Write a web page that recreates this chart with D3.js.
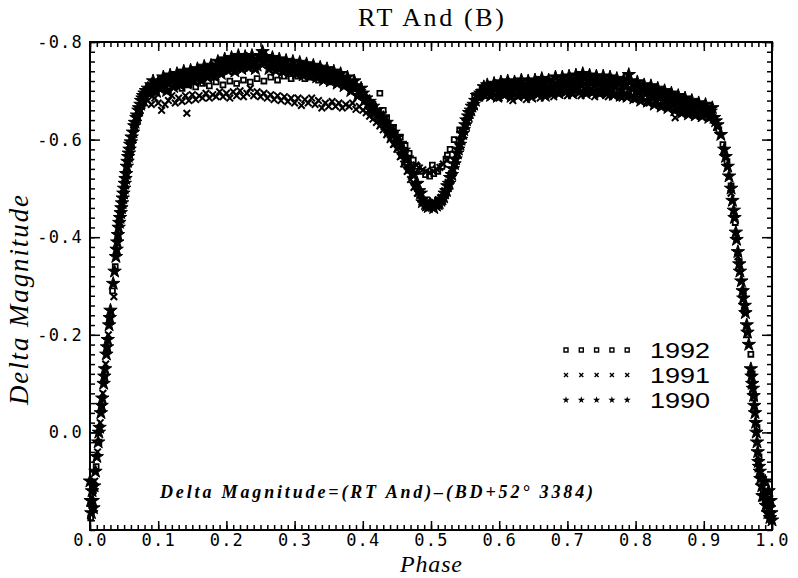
<html>
<head>
<title>RT And (B)</title>
<script src="https://cdn.jsdelivr.net/npm/d3@7"></script>
<style>
    body { margin: 0; background: #fff; }
    svg { display: block; }
</style>
</head>
<body>
<svg id="chart"></svg>
<script>
const WIDTH = 798
const HEIGHT = 578

// tick labels
const xTickLabels = ["0.0", "0.1", "0.2", "0.3", "0.4", "0.5", "0.6", "0.7", "0.8", "0.9", "1.0"]
const yTickLabels = ["-0.8", "-0.6", "-0.4", "-0.2", "0.0"]
const legendYears = ["1992", "1991", "1990"]

// [phase, delta magnitude]
const obs1990 = [
  [0.000,0.100],[0.001,0.140],[0.002,0.165],[0.003,0.120],[0.004,0.140],[0.005,0.155],[0.006,0.110],[0.008,0.080],
  [0.010,0.050],[0.012,0.020],[0.013,0.000],[0.014,-0.010],[0.016,-0.040],[0.017,-0.055],[0.018,-0.070],[0.020,-0.100],
  [0.021,-0.115],[0.022,-0.130],[0.024,-0.160],[0.025,-0.175],[0.026,-0.190],[0.028,-0.220],[0.029,-0.235],[0.030,-0.250],
  [0.034,-0.305],[0.036,-0.330],[0.038,-0.360],[0.039,-0.375],[0.040,-0.390],[0.041,-0.405],[0.042,-0.420],[0.043,-0.430],
  [0.044,-0.440],[0.045,-0.450],[0.046,-0.460],[0.047,-0.470],[0.048,-0.480],[0.049,-0.490],[0.050,-0.500],[0.051,-0.510],
  [0.052,-0.520],[0.053,-0.530],[0.054,-0.545],[0.055,-0.555],[0.056,-0.565],[0.057,-0.572],[0.058,-0.580],[0.059,-0.590],
  [0.060,-0.595],[0.061,-0.605],[0.063,-0.615],[0.065,-0.628],[0.066,-0.635],[0.068,-0.645],[0.069,-0.650],[0.071,-0.660],
  [0.072,-0.665],[0.074,-0.672],[0.075,-0.680],[0.077,-0.685],[0.078,-0.690],[0.080,-0.695],[0.082,-0.700],
  [0.085,-0.705],[0.0875,-0.695],[0.090,-0.712],[0.0925,-0.720],[0.095,-0.705],[0.0975,-0.698],[0.100,-0.718],[0.1025,-0.705],
  [0.105,-0.710],[0.1075,-0.728],[0.110,-0.722],[0.1125,-0.700],[0.115,-0.715],[0.1175,-0.732],[0.120,-0.725],[0.1225,-0.708],
  [0.125,-0.718],[0.1275,-0.735],[0.130,-0.728],[0.1325,-0.712],[0.135,-0.722],[0.1375,-0.740],[0.140,-0.730],[0.1425,-0.715],
  [0.145,-0.726],[0.1475,-0.742],[0.150,-0.735],[0.1525,-0.720],[0.155,-0.728],[0.1575,-0.745],[0.160,-0.738],[0.1625,-0.722],
  [0.165,-0.732],[0.1675,-0.750],[0.170,-0.740],[0.1725,-0.728],[0.175,-0.735],[0.1775,-0.752],[0.180,-0.745],[0.1825,-0.730],
  [0.185,-0.740],[0.1875,-0.760],[0.190,-0.752],[0.1925,-0.735],[0.195,-0.745],[0.1975,-0.765],[0.200,-0.755],[0.2025,-0.742],
  [0.205,-0.748],[0.2075,-0.768],[0.210,-0.760],[0.2125,-0.740],[0.215,-0.750],[0.2175,-0.772],[0.220,-0.762],[0.2225,-0.745],
  [0.225,-0.752],[0.2275,-0.770],[0.230,-0.765],[0.2325,-0.748],[0.235,-0.755],[0.2375,-0.772],[0.240,-0.760],[0.2425,-0.745],
  [0.245,-0.752],[0.2475,-0.765],[0.250,-0.770],[0.253,-0.780],[0.255,-0.758],[0.2575,-0.770],[0.260,-0.762],[0.2625,-0.745],
  [0.265,-0.750],[0.2675,-0.768],[0.270,-0.758],[0.2725,-0.742],[0.275,-0.748],[0.2775,-0.765],[0.280,-0.755],[0.2825,-0.740],
  [0.285,-0.745],[0.2875,-0.762],[0.290,-0.752],[0.2925,-0.738],[0.295,-0.745],[0.2975,-0.760],[0.300,-0.750],[0.3025,-0.735],
  [0.305,-0.742],[0.3075,-0.758],[0.310,-0.748],[0.3125,-0.732],[0.315,-0.740],[0.3175,-0.755],[0.320,-0.745],[0.3225,-0.730],
  [0.325,-0.738],[0.3275,-0.752],[0.330,-0.742],[0.3325,-0.728],[0.335,-0.735],[0.3375,-0.748],[0.340,-0.740],[0.3425,-0.722],
  [0.345,-0.732],[0.3475,-0.745],[0.350,-0.735],[0.3525,-0.720],[0.355,-0.728],[0.3575,-0.740],[0.360,-0.730],[0.3625,-0.715],
  [0.365,-0.722],[0.3675,-0.735],[0.370,-0.725],[0.3725,-0.710],[0.375,-0.715],[0.3775,-0.728],[0.380,-0.718],[0.3825,-0.700],
  [0.385,-0.708],[0.3875,-0.720],[0.390,-0.710],[0.3925,-0.690],[0.395,-0.698],[0.3975,-0.705],[0.400,-0.695],[0.4025,-0.680],
  [0.405,-0.685],[0.4075,-0.672],[0.410,-0.678],[0.4125,-0.660],[0.415,-0.668],[0.4175,-0.655],[0.420,-0.660],[0.4225,-0.648],
  [0.425,-0.652],[0.4275,-0.635],[0.430,-0.645],[0.4325,-0.632],[0.435,-0.635],[0.4375,-0.618],[0.440,-0.625],[0.4425,-0.610],
  [0.445,-0.615],[0.4475,-0.595],[0.450,-0.605],[0.4525,-0.588],[0.455,-0.592],[0.4575,-0.570],[0.460,-0.578],[0.4625,-0.560],
  [0.465,-0.562],[0.4675,-0.540],[0.470,-0.545],[0.4725,-0.530],[0.475,-0.528],[0.4775,-0.508],[0.480,-0.510],[0.4825,-0.495],
  [0.485,-0.490],[0.4875,-0.472],[0.488,-0.478],[0.492,-0.468],[0.4935,-0.465],[0.496,-0.462],[0.4985,-0.468],[0.500,-0.465],
  [0.5025,-0.464],[0.504,-0.460],[0.5065,-0.470],[0.508,-0.465],[0.5105,-0.468],[0.512,-0.470],[0.5145,-0.475],[0.516,-0.478],
  [0.5185,-0.482],[0.520,-0.490],[0.5225,-0.495],[0.524,-0.505],[0.5265,-0.510],[0.528,-0.522],[0.5305,-0.528],[0.532,-0.540],
  [0.5345,-0.550],[0.536,-0.560],[0.5385,-0.572],[0.540,-0.580],[0.5425,-0.590],[0.544,-0.600],[0.5465,-0.612],[0.548,-0.620],
  [0.5505,-0.630],[0.552,-0.640],[0.5545,-0.648],[0.556,-0.655],[0.5585,-0.660],[0.560,-0.668],[0.5625,-0.672],[0.565,-0.680],
  [0.5675,-0.690],[0.570,-0.690],[0.5725,-0.695],[0.575,-0.698],[0.5775,-0.708],[0.580,-0.702],
  [0.5825,-0.712],[0.585,-0.705],[0.5875,-0.690],[0.590,-0.698],[0.5925,-0.715],[0.595,-0.708],[0.5975,-0.688],[0.600,-0.700],
  [0.6025,-0.718],[0.605,-0.710],[0.6075,-0.692],[0.610,-0.702],[0.6125,-0.720],[0.615,-0.712],[0.6175,-0.688],[0.620,-0.698],
  [0.6225,-0.718],[0.625,-0.708],[0.6275,-0.690],[0.630,-0.700],[0.6325,-0.722],[0.635,-0.712],[0.6375,-0.692],[0.640,-0.703],
  [0.6425,-0.720],[0.645,-0.710],[0.6475,-0.688],[0.650,-0.700],[0.6525,-0.722],[0.655,-0.712],[0.6575,-0.695],[0.660,-0.705],
  [0.6625,-0.725],[0.665,-0.715],[0.6675,-0.690],[0.670,-0.702],[0.6725,-0.722],[0.675,-0.710],[0.6775,-0.695],[0.680,-0.705],
  [0.6825,-0.728],[0.685,-0.715],[0.6875,-0.695],[0.690,-0.708],[0.6925,-0.728],[0.695,-0.718],[0.6975,-0.698],[0.700,-0.710],
  [0.7025,-0.730],[0.705,-0.720],[0.7075,-0.695],[0.710,-0.708],[0.7125,-0.732],[0.715,-0.722],[0.7175,-0.698],[0.720,-0.712],
  [0.7225,-0.735],[0.725,-0.725],[0.7275,-0.695],[0.730,-0.710],[0.7325,-0.732],[0.735,-0.722],[0.7375,-0.698],[0.740,-0.712],
  [0.7425,-0.730],[0.745,-0.720],[0.7475,-0.695],[0.750,-0.708],[0.7525,-0.730],[0.755,-0.718],[0.7575,-0.695],[0.760,-0.705],
  [0.7625,-0.728],[0.765,-0.720],[0.7675,-0.692],[0.770,-0.710],[0.7725,-0.725],[0.775,-0.715],[0.7775,-0.690],[0.780,-0.702],
  [0.7825,-0.722],[0.785,-0.712],[0.7875,-0.688],[0.790,-0.733],[0.7925,-0.720],[0.795,-0.705],[0.7975,-0.685],[0.800,-0.710],
  [0.8025,-0.718],[0.805,-0.698],[0.8075,-0.680],[0.810,-0.705],[0.8125,-0.712],[0.815,-0.695],[0.8175,-0.678],[0.820,-0.702],
  [0.8225,-0.710],[0.825,-0.690],[0.8275,-0.672],[0.830,-0.698],[0.8325,-0.705],[0.835,-0.685],[0.8375,-0.668],[0.840,-0.692],
  [0.8425,-0.700],[0.845,-0.680],[0.8475,-0.665],[0.850,-0.688],[0.8525,-0.695],[0.855,-0.675],[0.8575,-0.660],[0.860,-0.682],
  [0.8625,-0.690],[0.865,-0.670],[0.8675,-0.655],[0.870,-0.678],[0.8725,-0.685],[0.875,-0.665],[0.8775,-0.652],[0.880,-0.672],
  [0.8825,-0.680],[0.885,-0.660],[0.8875,-0.650],[0.890,-0.668],[0.8925,-0.675],[0.895,-0.662],[0.8975,-0.648],[0.900,-0.665],
  [0.9025,-0.672],[0.905,-0.655],[0.9075,-0.645],[0.910,-0.658],[0.9125,-0.665],[0.915,-0.645],[0.9175,-0.638],[0.920,-0.630],
  [0.925,-0.610],[0.930,-0.580],[0.932,-0.565],[0.935,-0.545],[0.937,-0.525],[0.940,-0.500],[0.942,-0.475],[0.944,-0.455],
  [0.945,-0.440],[0.947,-0.410],[0.948,-0.395],[0.950,-0.370],[0.952,-0.345],[0.953,-0.330],[0.955,-0.310],[0.957,-0.290],
  [0.958,-0.275],[0.960,-0.260],[0.961,-0.245],[0.963,-0.220],[0.964,-0.205],[0.966,-0.180],[0.969,-0.130],[0.970,-0.115],
  [0.971,-0.100],[0.972,-0.090],[0.973,-0.075],[0.974,-0.055],[0.975,-0.040],[0.976,-0.020],[0.977,0.000],[0.978,0.020],
  [0.979,0.040],[0.980,0.060],[0.981,0.070],[0.982,0.080],[0.983,0.095],[0.985,0.110],[0.986,0.130],[0.988,0.130],
  [0.990,0.100],[0.991,0.150],[0.992,0.135],[0.994,0.165],[0.995,0.120],[0.996,0.155],[0.997,0.175],[0.998,0.140],
  [0.999,0.165],[1.000,0.180]
]

const obs1991 = [
  [0.003,0.150],[0.007,0.100],[0.011,0.040],[0.015,-0.020],[0.019,-0.080],[0.023,-0.140],[0.027,-0.200],[0.031,-0.245],
  [0.035,-0.278],[0.039,-0.370],[0.043,-0.430],[0.047,-0.470],[0.051,-0.510],[0.055,-0.550],[0.059,-0.590],[0.064,-0.620],
  [0.068,-0.645],[0.072,-0.660],[0.076,-0.670],[0.080,-0.675],[0.085,-0.680],[0.090,-0.672],[0.095,-0.685],[0.100,-0.675],
  [0.105,-0.660],[0.110,-0.672],[0.115,-0.680],[0.120,-0.690],[0.125,-0.675],[0.130,-0.685],[0.135,-0.678],[0.140,-0.690],
  [0.142,-0.654],[0.145,-0.680],[0.150,-0.692],[0.155,-0.682],[0.160,-0.690],[0.165,-0.685],[0.170,-0.695],[0.175,-0.685],
  [0.180,-0.692],[0.185,-0.688],[0.190,-0.698],[0.195,-0.688],[0.200,-0.695],[0.205,-0.685],[0.210,-0.698],[0.215,-0.690],
  [0.220,-0.700],[0.225,-0.688],[0.230,-0.695],[0.235,-0.705],[0.240,-0.690],[0.245,-0.698],[0.250,-0.688],[0.255,-0.695],
  [0.260,-0.685],[0.265,-0.692],[0.270,-0.682],[0.275,-0.690],[0.280,-0.680],[0.285,-0.688],[0.290,-0.678],[0.295,-0.685],
  [0.300,-0.675],[0.305,-0.685],[0.310,-0.670],[0.315,-0.682],[0.320,-0.675],[0.325,-0.685],[0.330,-0.672],[0.335,-0.680],
  [0.340,-0.665],[0.345,-0.675],[0.350,-0.668],[0.355,-0.678],[0.360,-0.668],[0.365,-0.675],[0.370,-0.665],[0.375,-0.672],
  [0.380,-0.668],[0.385,-0.675],[0.390,-0.662],[0.395,-0.668],[0.400,-0.660],[0.405,-0.655],[0.410,-0.648],[0.415,-0.642],
  [0.420,-0.635],[0.425,-0.628],[0.430,-0.620],[0.435,-0.610],[0.440,-0.600],[0.445,-0.590],[0.450,-0.580],[0.455,-0.565],
  [0.460,-0.550],[0.465,-0.535],[0.470,-0.518],[0.475,-0.502],[0.480,-0.490],[0.485,-0.478],[0.490,-0.470],[0.495,-0.465],
  [0.500,-0.468],[0.505,-0.470],[0.510,-0.475],[0.515,-0.482],[0.520,-0.495],[0.525,-0.512],[0.530,-0.530],[0.535,-0.555],
  [0.478,-0.548],[0.483,-0.542],[0.488,-0.538],[0.493,-0.535],[0.498,-0.533],[0.503,-0.535],[0.508,-0.540],[0.513,-0.543],
  [0.518,-0.550],[0.523,-0.558],
  [0.540,-0.585],[0.545,-0.612],[0.550,-0.635],[0.555,-0.652],[0.560,-0.668],[0.565,-0.678],[0.570,-0.686],[0.580,-0.688],
  [0.590,-0.695],[0.600,-0.685],[0.610,-0.692],[0.620,-0.680],[0.630,-0.690],[0.640,-0.682],[0.650,-0.692],[0.660,-0.685],
  [0.670,-0.695],[0.680,-0.688],[0.690,-0.698],[0.700,-0.690],[0.710,-0.700],[0.720,-0.690],[0.730,-0.698],[0.740,-0.688],
  [0.750,-0.695],[0.760,-0.688],[0.770,-0.692],[0.780,-0.685],[0.790,-0.690],[0.800,-0.682],[0.810,-0.685],[0.820,-0.675],
  [0.830,-0.678],[0.840,-0.668],[0.850,-0.672],[0.858,-0.645],[0.860,-0.662],[0.870,-0.655],[0.880,-0.660],[0.890,-0.650],
  [0.900,-0.655],[0.910,-0.645],[0.920,-0.625],[0.930,-0.575],[0.940,-0.490],[0.950,-0.360],[0.960,-0.250],[0.970,-0.100],
  [0.980,0.060],[0.990,0.140],[0.998,0.170]
]

const obs1992 = [
  [0.001,0.175],[0.005,0.120],[0.009,0.070],[0.013,0.020],[0.017,-0.050],[0.021,-0.110],[0.025,-0.170],[0.029,-0.230],
  [0.033,-0.290],[0.037,-0.340],[0.041,-0.400],[0.045,-0.450],[0.049,-0.490],[0.053,-0.530],[0.057,-0.570],[0.062,-0.600],
  [0.067,-0.635],[0.072,-0.655],[0.077,-0.685],[0.085,-0.695],[0.095,-0.700],[0.105,-0.705],[0.115,-0.700],[0.125,-0.710],
  [0.135,-0.705],[0.145,-0.712],[0.155,-0.708],[0.165,-0.715],[0.175,-0.710],[0.185,-0.718],[0.195,-0.712],[0.205,-0.720],
  [0.215,-0.715],[0.225,-0.722],[0.235,-0.718],[0.245,-0.725],[0.255,-0.720],[0.265,-0.728],[0.275,-0.722],[0.285,-0.730],
  [0.295,-0.725],[0.305,-0.730],[0.315,-0.725],[0.325,-0.728],[0.335,-0.722],[0.345,-0.725],[0.355,-0.718],[0.365,-0.720],
  [0.375,-0.712],[0.385,-0.705],[0.395,-0.695],[0.405,-0.685],[0.415,-0.672],[0.425,-0.695],[0.430,-0.660],[0.435,-0.645],
  [0.445,-0.625],[0.455,-0.605],[0.462,-0.588],[0.468,-0.572],[0.474,-0.558],[0.480,-0.545],[0.486,-0.535],[0.492,-0.528],
  [0.498,-0.525],[0.502,-0.548],[0.504,-0.530],[0.510,-0.535],[0.516,-0.545],[0.522,-0.560],[0.524,-0.568],[0.528,-0.580],
  [0.534,-0.600],[0.542,-0.620],[0.546,-0.615],[0.552,-0.640],[0.558,-0.660],[0.564,-0.690],[0.572,-0.690],[0.581,-0.690],
  [0.586,-0.705],[0.600,-0.695],[0.615,-0.705],[0.625,-0.712],[0.635,-0.708],[0.645,-0.715],[0.655,-0.705],[0.665,-0.712],
  [0.675,-0.705],[0.685,-0.712],[0.695,-0.702],[0.705,-0.710],[0.715,-0.705],[0.725,-0.712],[0.735,-0.700],[0.745,-0.708],
  [0.755,-0.700],[0.765,-0.705],[0.775,-0.698],[0.785,-0.702],[0.795,-0.695],[0.805,-0.690],[0.815,-0.685],[0.825,-0.680],
  [0.835,-0.678],[0.845,-0.672],[0.855,-0.665],[0.865,-0.660],[0.875,-0.662],[0.885,-0.655],[0.895,-0.650],[0.905,-0.652],
  [0.915,-0.640],[0.922,-0.620],[0.928,-0.590],[0.934,-0.555],[0.940,-0.505],[0.946,-0.430],[0.952,-0.350],[0.958,-0.290],
  [0.964,-0.200],[0.969,-0.160],[0.971,-0.120],[0.974,-0.070],[0.978,-0.010],[0.981,0.050],[0.984,0.090],[0.987,0.120],
  [0.990,0.140],[0.993,0.160],[0.996,0.170],[0.999,0.180]
]

const svg = d3.select("#chart").attr("width", WIDTH).attr("height", HEIGHT)
svg.append("rect").attr("width", WIDTH).attr("height", HEIGHT).attr("fill", "#fff")

const x = d3.scaleLinear().domain([0, 1]).range([90, 772])
const y = d3.scaleLinear().domain([-0.8, 0.2]).range([42, 530])

const xMajor = xTickLabels.map(Number)
const xMinor = d3.range(0, 101).map(i => i / 100)
const yMajor = yTickLabels.map(Number)
const yMinor = d3.range(0, 51).map(i => -0.8 + i * 0.02)

function addAxis(axis, transform, withLabels) {
    let g = svg.append("g").attr("transform", transform).call(axis)
    g.select(".domain").remove()
    g.selectAll("line").attr("stroke", "#000").attr("stroke-width", 1.5)
    if (withLabels) {
        g.selectAll("text")
            .attr("font-family", "'DejaVu Sans Mono', monospace")
            .attr("font-size", 17)
            .attr("letter-spacing", 1.2)
            .attr("fill", "#000")
    }
    return g
}

// bottom
addAxis(d3.axisBottom(x).tickValues(xMinor).tickSize(-5).tickFormat(""), "translate(0,530)")
addAxis(d3.axisBottom(x).tickValues(xMajor).tickSize(-9).tickPadding(4)
    .tickFormat((d, i) => xTickLabels[i]), "translate(0,530)", true)
// top
addAxis(d3.axisTop(x).tickValues(xMinor).tickSize(-5).tickFormat(""), "translate(0,42)")
addAxis(d3.axisTop(x).tickValues(xMajor).tickSize(-9).tickFormat(""), "translate(0,42)")
// left
addAxis(d3.axisLeft(y).tickValues(yMinor).tickSize(-5).tickFormat(""), "translate(90,0)")
addAxis(d3.axisLeft(y).tickValues(yMajor).tickSize(-10).tickPadding(7)
    .tickFormat((d, i) => yTickLabels[i]), "translate(90,0)", true)
// right
addAxis(d3.axisRight(y).tickValues(yMinor).tickSize(-5).tickFormat(""), "translate(772,0)")
addAxis(d3.axisRight(y).tickValues(yMajor).tickSize(-10).tickFormat(""), "translate(772,0)")

svg.append("rect")
    .attr("x", 90).attr("y", 42)
    .attr("width", 682).attr("height", 488)
    .attr("fill", "none").attr("stroke", "#000").attr("stroke-width", 2)

// markers
const timesType = d3.symbolTimes || d3.symbolX
const starPath = d3.symbol(d3.symbolStar, 56)()
const xPath = d3.symbol(timesType, 30)()
const squarePath = d3.symbol(d3.symbolSquare, 24)()

const series = [
    { data: obs1990, path: starPath, fill: "#000", stroke: "#000", width: 1 },
    { data: obs1991, path: xPath, fill: "none", stroke: "#000", width: 2 },
    { data: obs1992, path: squarePath, fill: "none", stroke: "#000", width: 1.8 }
]

series.forEach(s => {
    svg.append("g")
        .selectAll("path")
        .data(s.data)
        .enter()
        .append("path")
            .attr("d", s.path)
            .attr("transform", d => `translate(${x(d[0])},${y(d[1])})`)
            .attr("fill", s.fill)
            .attr("stroke", s.stroke)
            .attr("stroke-width", s.width)
})

// legend
const legendSymbols = [d3.symbol(d3.symbolSquare, 16)(), d3.symbol(timesType, 12)(), d3.symbol(d3.symbolStar, 16)()]
const legendFill = ["none", "none", "#000"]
const legendStroke = ["#000", "#000", "none"]
legendYears.forEach((yr, i) => {
    let cy = 350 + i * 25
    let g = svg.append("g")
    g.selectAll("path")
        .data(d3.range(5))
        .enter()
        .append("path")
            .attr("d", legendSymbols[i])
            .attr("transform", k => `translate(${566 + k * 15.3},${cy})`)
            .attr("fill", legendFill[i])
            .attr("stroke", legendStroke[i])
            .attr("stroke-width", 1.4)
    g.append("text")
        .attr("x", 650).attr("y", cy + 8)
        .attr("font-family", "'Liberation Sans', sans-serif")
        .attr("font-size", 22)
        .attr("textLength", 60)
        .attr("lengthAdjust", "spacingAndGlyphs")
        .text(yr)
})

// titles
svg.append("text")
    .attr("x", 431).attr("y", 26)
    .attr("text-anchor", "middle")
    .attr("font-family", "'Liberation Serif', serif")
    .attr("font-size", 26)
    .attr("textLength", 146)
    .text("RT And (B)")

svg.append("text")
    .attr("x", 431).attr("y", 572)
    .attr("text-anchor", "middle")
    .attr("font-family", "'Liberation Serif', serif")
    .attr("font-style", "italic")
    .attr("font-size", 24)
    .attr("textLength", 62)
    .text("Phase")

svg.append("text")
    .attr("transform", "translate(28,300) rotate(-90)")
    .attr("text-anchor", "middle")
    .attr("font-family", "'Liberation Serif', serif")
    .attr("font-style", "italic")
    .attr("font-size", 27)
    .attr("textLength", 210)
    .text("Delta Magnitude")

svg.append("text")
    .attr("x", 160).attr("y", 498)
    .attr("font-family", "'Liberation Serif', serif")
    .attr("font-style", "italic")
    .attr("font-weight", "bold")
    .attr("font-size", 18)
    .attr("textLength", 433)
    .text("Delta Magnitude=(RT And)\u2013(BD+52\u00b0 3384)")
</script>
</body>
</html>
